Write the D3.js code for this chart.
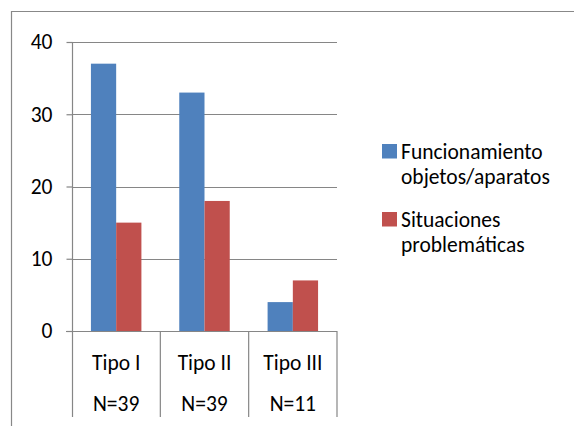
<!DOCTYPE html>
<html><head><meta charset="utf-8">
<script src="https://cdn.jsdelivr.net/npm/d3@7"></script>
<style>html,body{margin:0;padding:0;background:#fff;}svg{display:block;}</style>
</head><body>
<svg id="chart" width="574" height="426"></svg>
<script>
const categories = ["Tipo I", "Tipo II", "Tipo III"];
const sampleSizes = ["N=39", "N=39", "N=11"];
const seriesNames = ["Funcionamiento objetos/aparatos", "Situaciones problemáticas"];
const legendLines = [["Funcionamiento", "objetos/aparatos"], ["Situaciones", "problemáticas"]];
const funcionamiento = [37, 33, 4];
const situaciones = [15, 18, 7];
const yTicks = [0, 10, 20, 30, 40];
const colors = ["#4F81BD", "#C0504D"];

(function () {
const font = "Carlito, Calibri, Lato, sans-serif";
const fs = 21.5;
const svg = d3.select("#chart");
const grid = "#868686";

// outer frame (cropped)
svg.append("path").attr("d", "M11.5,426V11.5H574").attr("fill", "none").attr("stroke", "#888").attr("stroke-width", 1.2);

const pl = 72, pr = 337, pt = 42, pb = 331;
const x = d3.scaleBand().domain(categories).range([pl, pr]).paddingInner(0).paddingOuter(0);
const y = d3.scaleLinear().domain([0, 40]).range([pb, pt]);
const bw = x.bandwidth() / 3.5;
const x1 = d3.scaleBand().domain(seriesNames).range([0, 2 * bw]);

// gridlines
svg.append("g").selectAll("line").data(yTicks.filter(d => d > 0)).join("line")
  .attr("x1", pl).attr("x2", pr).attr("y1", d => Math.round(y(d)) + 0.5).attr("y2", d => Math.round(y(d)) + 0.5)
  .attr("stroke", grid).attr("stroke-width", 1.2);

// y axis
const yAxis = d3.axisLeft(y).tickValues(yTicks).tickSize(6).tickPadding(14);
const ga = svg.append("g").attr("transform", `translate(${pl + 0.5},0)`).call(yAxis);
ga.select(".domain").remove();
ga.selectAll(".tick line").attr("stroke", grid).attr("stroke-width", 1.2);
ga.selectAll(".tick text").attr("font-family", font).attr("font-size", fs).attr("fill", "#000");
svg.append("line").attr("x1", pl + 0.5).attr("x2", pl + 0.5).attr("y1", pt).attr("y2", 417).attr("stroke", grid).attr("stroke-width", 1.2);

// bars
const data = categories.map((c, i) => ({ c, vals: [funcionamiento[i], situaciones[i]] }));
const groups = svg.append("g").selectAll("g").data(data).join("g")
  .attr("transform", d => `translate(${x(d.c) + (x.bandwidth() - 2 * bw) / 2},0)`);
groups.selectAll("rect").data(d => d.vals.map((v, k) => ({ v, k }))).join("rect")
  .attr("x", d => x1(seriesNames[d.k])).attr("width", x1.bandwidth())
  .attr("y", d => y(d.v)).attr("height", d => y(0) - y(d.v))
  .attr("fill", d => colors[d.k]);

// x axis line & separators
svg.append("line").attr("x1", 66).attr("x2", pr).attr("y1", pb + 0.5).attr("y2", pb + 0.5).attr("stroke", grid).attr("stroke-width", 1.2);
svg.append("g").selectAll("line").data(categories).join("line")
  .attr("x1", d => x(d) + x.bandwidth()).attr("x2", d => x(d) + x.bandwidth())
  .attr("y1", pb).attr("y2", 417).attr("stroke", grid).attr("stroke-width", 1.2);

// category labels
svg.append("g").selectAll("text").data(categories).join("text")
  .attr("x", d => x(d) + x.bandwidth() / 2).attr("y", 370)
  .attr("text-anchor", "middle").attr("font-family", font).attr("font-size", fs).text(d => d);
svg.append("g").selectAll("text").data(categories).join("text")
  .attr("x", d => x(d) + x.bandwidth() / 2).attr("y", 410.5)
  .attr("text-anchor", "middle").attr("font-family", font).attr("font-size", fs).text((d, i) => sampleSizes[i]);

// legend
const leg = svg.append("g");
const legBase = [158.5, 226.5];
seriesNames.forEach((s, i) => {
  leg.append("rect").attr("x", 382).attr("y", legBase[i] - 14.5).attr("width", 15).attr("height", 14.5).attr("fill", colors[i]);
  legendLines[i].forEach((t, j) => {
    leg.append("text").attr("x", 401).attr("y", legBase[i] + j * 25)
      .attr("font-family", font).attr("font-size", fs).text(t);
  });
});
})();
</script>
</body></html>
